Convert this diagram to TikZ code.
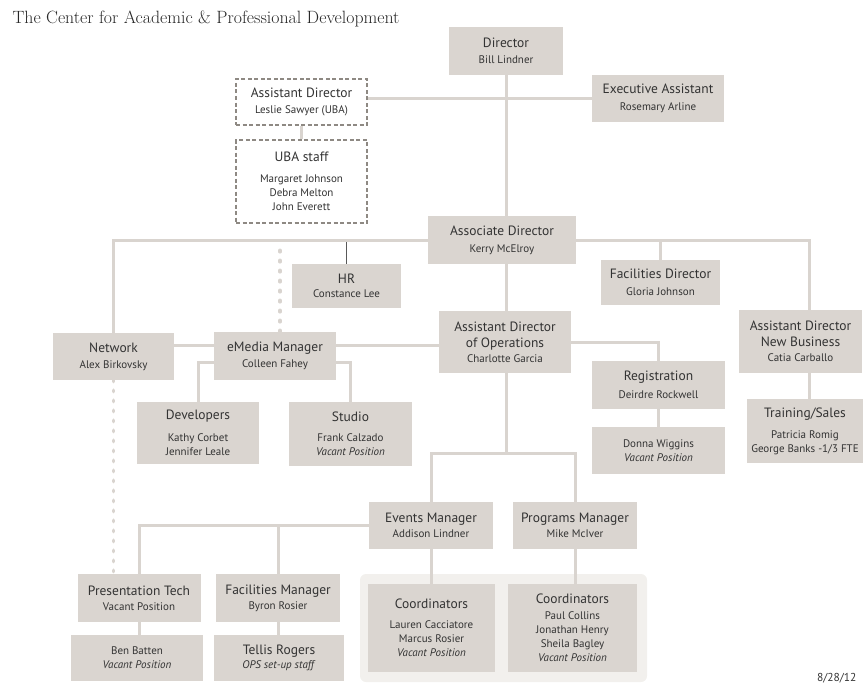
\documentclass[tikz,border=0pt]{standalone}
\usepackage{fontspec}
\newfontfamily\boxfont{PT Sans}
\usetikzlibrary{backgrounds}

\definecolor{boxgray}{HTML}{DAD5D0}
\definecolor{linegray}{HTML}{D9D4CF}
\definecolor{panelgray}{HTML}{F2F0ED}
\definecolor{dashgray}{HTML}{8E8983}
\definecolor{inkgray}{HTML}{333333}

\newcommand{\hd}[1]{{\fontsize{13.5}{16}\selectfont #1}}

\begin{document}
\begin{tikzpicture}[x=1pt, y=-1pt, font=\boxfont\fontsize{11}{14}\selectfont, text=inkgray,
		box/.style 2 args={fill=boxgray, minimum width=#1pt, minimum height=#2pt, inner sep=0pt, align=center},
		dashbox/.style 2 args={draw=dashgray, dash pattern=on 4pt off 2.5pt, line width=1.6pt, fill=white, minimum width=#1pt, minimum height=#2pt, inner sep=0pt, align=center},
		link/.style={draw=linegray, line width=3pt},
		hrlink/.style={draw=black!65, line width=1.2pt},
		dotlink/.style={draw=linegray, line width=3.5pt, line cap=round, dash pattern=on 1.5pt off 8.5pt}]
		\useasboundingbox (0,0) rectangle (864,685);

		\node[anchor=base west, font=\rmfamily\fontsize{17.8}{20}\selectfont, text=black!85] (title) at (9,24) {The Center for Academic \& Professional Development};
		\node[anchor=base east, font=\boxfont\fontsize{11.5}{14}\selectfont] (date) at (860,681) {8/28/12};

		\node[box={114}{48}] (dir) at (506,51) {\hd{Director}\\[2pt]Bill Lindner};
		\node[box={132}{47}] (exec) at (658,98.5) {\hd{Executive Assistant}\\[3pt]Rosemary Arline};
		\node[dashbox={131}{46}] (adir) at (301.5,102) {\hd{Assistant Director}\\[2pt]Leslie Sawyer (UBA)};
		\node[dashbox={131}{83}] (uba) at (301.5,181.5) {\hd{UBA staff}\\[7pt]Margaret Johnson\\Debra Melton\\John Everett};
		\node[box={148}{48}] (assoc) at (502,240) {\hd{Associate Director}\\[3pt]Kerry McElroy};
		\node[box={109}{44}] (hr) at (346.5,286) {\hd{HR}\\[0pt]Constance Lee};
		\node[box={119}{45}] (facdir) at (660.5,282.5) {\hd{Facilities Director}\\[3pt]Gloria Johnson};
		\node[box={132}{62}] (ops) at (505,342) {\hd{Assistant Director}\\[2pt]\hd{of Operations}\\[1pt]Charlotte Garcia};
		\node[box={123}{63}] (newbiz) at (800.5,341.5) {\hd{Assistant Director}\\[2pt]\hd{New Business}\\[1pt]Catia Carballo};
		\node[box={121}{47}] (network) at (113.5,356.5) {\hd{Network}\\[2pt]Alex Birkovsky};
		\node[box={122}{48}] (emedia) at (275,356) {\hd{eMedia Manager}\\[2pt]Colleen Fahey};
		\node[box={122}{62}] (dev) at (198,433) {\hd{Developers}\\[8pt]Kathy Corbet\\Jennifer Leale};
		\node[box={123}{64}] (studio) at (350.5,434) {\hd{Studio}\\[6pt]Frank Calzado\\\textit{Vacant Position}};
		\node[box={133}{48}] (reg) at (658.5,385) {\hd{Registration}\\[4pt]Deirdre Rockwell};
		\node[box={133}{47}] (donna) at (658.5,450.5) {Donna Wiggins\\\textit{Vacant Position}};
		\node[box={116}{64}] (train) at (805,431) {\hd{Training/Sales}\\[7pt]Patricia Romig\\George Banks -1/3 FTE};
		\node[box={124}{47}] (events) at (431,525.5) {\hd{Events Manager}\\[1pt]Addison Lindner};
		\node[box={124}{47}] (programs) at (575,525.5) {\hd{Programs Manager}\\[1pt]Mike McIver};
		\node[box={123}{48}] (ptech) at (139,598) {\hd{Presentation Tech}\\[1pt]Vacant Position};
		\node[box={124}{48}] (facmgr) at (278,598) {\hd{Facilities Manager}\\[1pt]Byron Rosier};
		\node[box={132}{46}] (ben) at (137,658) {Ben Batten\\\textit{Vacant Position}};
		\node[box={130}{46}] (tellis) at (279,658) {\hd{Tellis Rogers}\\[0pt]\textit{OPS set-up staff}};
		\node[box={127}{88}] (coordA) at (431.5,628) {\hd{Coordinators}\\[6pt]Lauren Cacciatore\\Marcus Rosier\\\textit{Vacant Position}};
		\node[box={129}{88}] (coordB) at (572.5,628) {\hd{Coordinators}\\[1.5pt]Paul Collins\\Jonathan Henry\\Sheila Bagley\\\textit{Vacant Position}};

		\begin{scope}[on background layer]
			\node[fill=panelgray, rounded corners=6pt, minimum width=287pt, minimum height=108pt] (panel) at (503.5,628) {};
			\coordinate (split) at (506,453);

			\draw[hrlink] (hr.north) -- ([yshift=-2pt]hr.north |- assoc);
			\draw[link] (dir.south) -- (dir.south |- ops.north);
			\draw[link] (exec.west) -- (exec.west -| adir.east);
			\path (adir) edge[link] (uba);
			\draw[link] (network.north) |- (assoc.west);
			\draw[link] (assoc.east) -| ([xshift=8.5pt]newbiz.north);
			\draw[link] (facdir.north) -- (facdir.north |- assoc);
			\draw[dotlink] ([xshift=5pt]emedia.north) -- ([xshift=5pt, yshift=-6pt]emedia.north |- assoc);
			\draw[link] ([yshift=-3pt]ops.west) -- ([yshift=-3pt]ops.west -| network.east);
			\draw[link] (ops.east) -| (reg.north);
			\draw[link] (dev.north) |- ([yshift=-6pt]emedia.center) -| (studio.north);
			\draw[dotlink] (network.south) -- (network.south |- ptech.north);
			\draw[link] (dir.south |- ops.south) -- (split);
			\draw[link] (events.north) |- (split) -| (programs.north);
			\draw[link] (events.west) -| (ptech.north);
			\draw[link] (facmgr.north) -- (facmgr.north |- events.west);
			\draw[link] (ptech.south) -- (ptech.south |- ben.north);
			\draw[link] (facmgr.south) -- (facmgr.south |- tellis.north);
			\path (reg) edge[link] (donna);
			\draw[link] ([xshift=8.5pt]newbiz.south) -- ([xshift=8.5pt]newbiz.south |- train.north);
			\draw[link] (events.south) -- (events.south |- coordA.north);
			\draw[link] (programs.south) -- (programs.south |- coordB.north);
		\end{scope}
	\end{tikzpicture}
\end{document}
